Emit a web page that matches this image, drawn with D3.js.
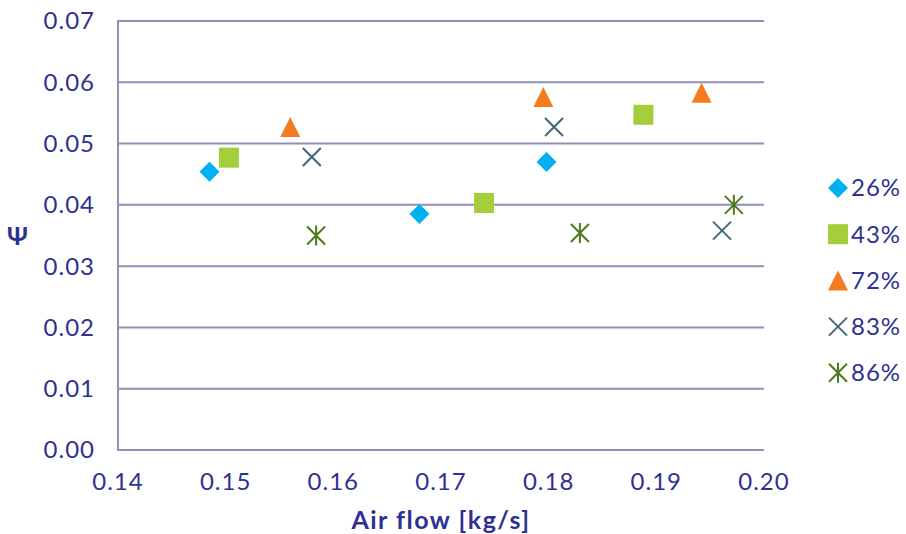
<!DOCTYPE html>
<html>
<head>
<meta charset="utf-8">
<script src="https://d3js.org/d3.v7.min.js"></script>
<style>
  body { margin: 0; background: #fff; }
  text { font-family: Lato, "Open Sans", sans-serif; fill: #2e3192; letter-spacing: 1px; }
</style>
</head>
<body>
<svg width="906" height="534"></svg>
<script>
// series labels
var seriesNames = ["26%", "43%", "72%", "83%", "86%"];
// air flow [kg/s] and psi for each series
var xs26 = [0.1485, 0.1680, 0.1798];
var ys26 = [0.0454, 0.0385, 0.0470];
var xs43 = [0.1503, 0.1740, 0.1888];
var ys43 = [0.0477, 0.0403, 0.0547];
var xs72 = [0.1560, 0.1795, 0.1942];
var ys72 = [0.0527, 0.0576, 0.0583];
var xs83 = [0.1580, 0.1805, 0.1961];
var ys83 = [0.0478, 0.0527, 0.0358];
var xs86 = [0.1584, 0.1829, 0.1972];
var ys86 = [0.0350, 0.0354, 0.0400];

var xTicks = [0.14, 0.15, 0.16, 0.17, 0.18, 0.19, 0.20];
var yTicks = [0, 0.01, 0.02, 0.03, 0.04, 0.05, 0.06, 0.07];

var seriesX = [xs26, xs43, xs72, xs83, xs86];
var seriesY = [ys26, ys43, ys72, ys83, ys86];
var colors = ["#00b0f0", "#a5cf3a", "#f47b20", "#3d6a78", "#4e7a1e"];
var shapes = ["diamond", "square", "triangle", "x", "star"];

var plotL = 118, plotR = 764, plotT = 21, plotB = 450;
var svg = d3.select("svg");

var x = d3.scaleLinear().domain([0.14, 0.20]).range([plotL, plotR]);
var y = d3.scaleLinear().domain([0, 0.07]).range([plotB, plotT]);

var gridColor = "#8f90b6";

// horizontal grid
svg.append("g").selectAll("line")
  .data(yTicks)
  .enter().append("line")
  .attr("x1", plotL).attr("x2", plotR)
  .attr("y1", d => y(d)).attr("y2", d => y(d))
  .attr("stroke", gridColor).attr("stroke-width", 2);

// left axis line
svg.append("line")
  .attr("x1", plotL).attr("x2", plotL)
  .attr("y1", plotT - 1).attr("y2", plotB + 1)
  .attr("stroke", gridColor).attr("stroke-width", 2);

// y tick labels
svg.append("g").selectAll("text")
  .data(yTicks)
  .enter().append("text")
  .attr("x", 95).attr("y", d => y(d))
  .attr("dy", "0.35em")
  .attr("text-anchor", "end")
  .style("font-size", "24px")
  .text(d => d3.format(".2f")(d));

// x tick labels
svg.append("g").selectAll("text")
  .data(xTicks)
  .enter().append("text")
  .attr("x", d => x(d)).attr("y", 490)
  .attr("text-anchor", "middle")
  .style("font-size", "24px")
  .text(d => d3.format(".2f")(d));

// axis titles
svg.append("text")
  .attr("x", 441).attr("y", 529)
  .attr("text-anchor", "middle")
  .style("font-size", "25px").style("font-weight", "bold")
  .style("letter-spacing", "1.5px")
  .text("Air flow [kg/s]");

svg.append("text")
  .attr("x", 18).attr("y", 236)
  .attr("text-anchor", "middle")
  .attr("dy", "0.35em")
  .style("font-size", "25px").style("font-weight", "bold")
  .text("Ψ");

function drawMarker(g, shape, color) {
  if (shape == "diamond") {
    g.append("path").attr("d", "M0,-10L10,0L0,10L-10,0Z").attr("fill", color);
  } else if (shape == "square") {
    g.append("rect").attr("x", -10).attr("y", -10).attr("width", 20).attr("height", 20).attr("fill", color);
  } else if (shape == "triangle") {
    g.append("path").attr("d", "M0,-10L10,10L-10,10Z").attr("fill", color);
  } else if (shape == "x") {
    g.append("path").attr("d", "M-9,-9L9,9M-9,9L9,-9")
      .attr("stroke", color).attr("stroke-width", 2).attr("fill", "none");
  } else {
    g.append("path").attr("d", "M-9,-9L9,9M-9,9L9,-9M0,-10L0,10")
      .attr("stroke", color).attr("stroke-width", 2).attr("fill", "none");
  }
}

// points
seriesNames.forEach(function(name, i) {
  var pts = seriesX[i].map((v, j) => [v, seriesY[i][j]]);
  svg.append("g").selectAll("g")
    .data(pts)
    .enter().append("g")
    .attr("transform", d => "translate(" + x(d[0]) + "," + y(d[1]) + ")")
    .each(function() { drawMarker(d3.select(this), shapes[i], colors[i]); });
});

// legend
var legend = svg.append("g");
seriesNames.forEach(function(name, i) {
  var ly = 188 + i * 46.2;
  var g = legend.append("g").attr("transform", "translate(838," + ly + ")");
  drawMarker(g, shapes[i], colors[i]);
  legend.append("text")
    .attr("x", 851).attr("y", ly)
    .attr("dy", "0.35em")
    .style("font-size", "24px")
    .text(name);
});
</script>
</body>
</html>
